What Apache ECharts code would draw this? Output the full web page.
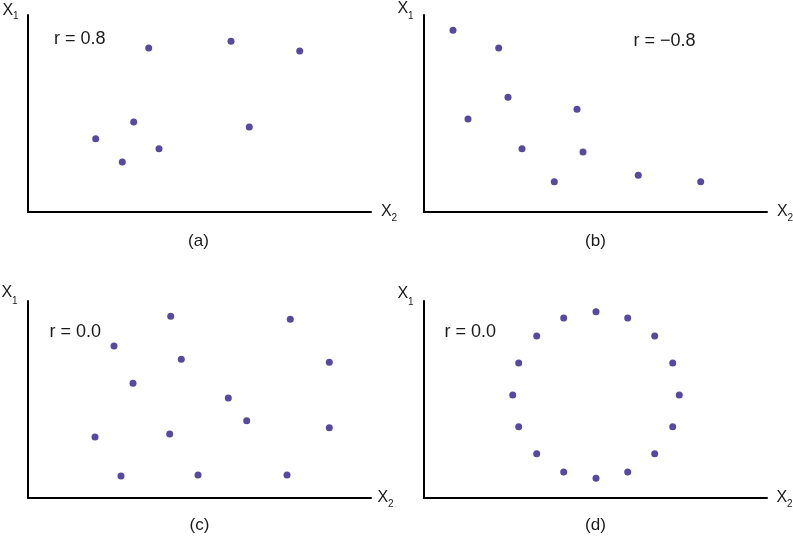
<!DOCTYPE html>
<html>
<head>
<meta charset="utf-8">
<script src="https://cdn.jsdelivr.net/npm/echarts@6/dist/echarts.min.js"></script>
<style>
html,body{margin:0;padding:0;background:#fff;}
#chart{width:793px;height:536px;}
</style>
</head>
<body>
<div id="chart"></div>
<script>
// Values (X2 horizontal, X1 vertical), in axis units 0..343 / 0..197
const aX2 = [67.7, 94.3, 105.7, 120.7, 131, 203, 221.3, 271.7];
const aX1 = [73.3, 50, 90, 164, 63.3, 170.7, 85, 161];

const bX2 = [29, 74.7, 44, 84, 98, 130.3, 153, 159, 214.3, 276.7];
const bX1 = [181.7, 164, 93, 114.7, 63.3, 30.3, 102.7, 60, 36.7, 30.3];

const cX2 = [142.7, 262.3, 86, 153.3, 301.3, 105, 200.3, 218.7, 301.3, 67, 141.7, 93, 170, 259];
const cX1 = [181.7, 178.7, 152, 138.7, 135.7, 114.7, 100, 77.3, 70.3, 61, 64, 22, 23, 23];

const dX2 = [172, 139.7, 203.7, 112.7, 230.7, 94.7, 248.7, 88.7, 255.3, 94.7, 248.7, 112.7, 230.7, 139.7, 203.7, 172];
const dX1 = [186.3, 180, 180, 162, 162, 135, 135, 103, 103, 71.3, 71.3, 44.3, 44.3, 26, 26, 19.7];

const panelCaptions = ['(a)', '(b)', '(c)', '(d)'];
const rLabels = ['r = 0.8', 'r = \u22120.8', 'r = 0.0', 'r = 0.0'];

const xMax = 343, yMax = 197;
const dotColor = '#5549a0';
const font = "'Liberation Sans', Arial, sans-serif";
const txtColor = '#1a1a1a';

const panels = [
  {x: aX2, y: aX1, left: 28, top: 15},
  {x: bX2, y: bX1, left: 424, top: 15},
  {x: cX2, y: cX1, left: 28, top: 301},
  {x: dX2, y: dX1, left: 424, top: 301}
];

const grids = [], xAxes = [], yAxes = [], series = [];
panels.forEach((p, i) => {
  grids.push({left: p.left, top: p.top, width: xMax, height: yMax, containLabel: false});
  const axisCommon = {
    axisLine: {show: true, onZero: false, lineStyle: {color: '#000', width: 2}},
    axisTick: {show: false}, axisLabel: {show: false}, splitLine: {show: false}
  };
  xAxes.push(Object.assign({type: 'value', gridIndex: i, min: 0, max: xMax}, axisCommon));
  yAxes.push(Object.assign({type: 'value', gridIndex: i, min: 0, max: yMax}, axisCommon));
  series.push({
    type: 'scatter', xAxisIndex: i, yAxisIndex: i,
    symbolSize: 7, itemStyle: {color: dotColor, opacity: 1},
    data: p.x.map((v, k) => [v, p.y[k]]),
    silent: true
  });
});

function txt(x, y, text, size, align) {
  return {type: 'text', x: x, y: y, silent: true,
    style: {text: text, fill: txtColor, font: size + 'px ' + font,
      textAlign: align || 'left', textVerticalAlign: 'middle'}};
}

const g = [];
const offs = [
  {dy: 0, x1: [2.5, 11, 5.5], x2: [381, 212], r: [54, 39.5], cap: [198.5, 241.5]},
  {dy: 0, x1: [397.5, 9, 7.5], x2: [777, 212], r: [633.5, 41], cap: [595.5, 241]},
  {dy: 286, x1: [1.5, 292.5, 8.5], x2: [377.5, 498], r: [49.5, 331.7], cap: [199.5, 525.5]},
  {dy: 286, x1: [397.5, 294, 8], x2: [776.5, 498], r: [444.5, 331.7], cap: [595.5, 525.5]}
];
offs.forEach((o, i) => {
  g.push(txt(o.x1[0], o.x1[1], 'X', 16));
  g.push(txt(o.x1[0] + 10.5, o.x1[1] + o.x1[2], '1', 10));
  g.push(txt(o.x2[0], o.x2[1], 'X', 16));
  g.push(txt(o.x2[0] + 10.5, o.x2[1] + 6.5, '2', 10));
  g.push(txt(o.r[0], o.r[1], rLabels[i], 18));
  g.push(txt(o.cap[0], o.cap[1], panelCaptions[i], 17, 'center'));
});

const chart = echarts.init(document.getElementById('chart'), null, {renderer: 'canvas'});
chart.setOption({
  animation: false,
  backgroundColor: '#fff',
  grid: grids, xAxis: xAxes, yAxis: yAxes, series: series,
  graphic: g
});
</script>
</body>
</html>
